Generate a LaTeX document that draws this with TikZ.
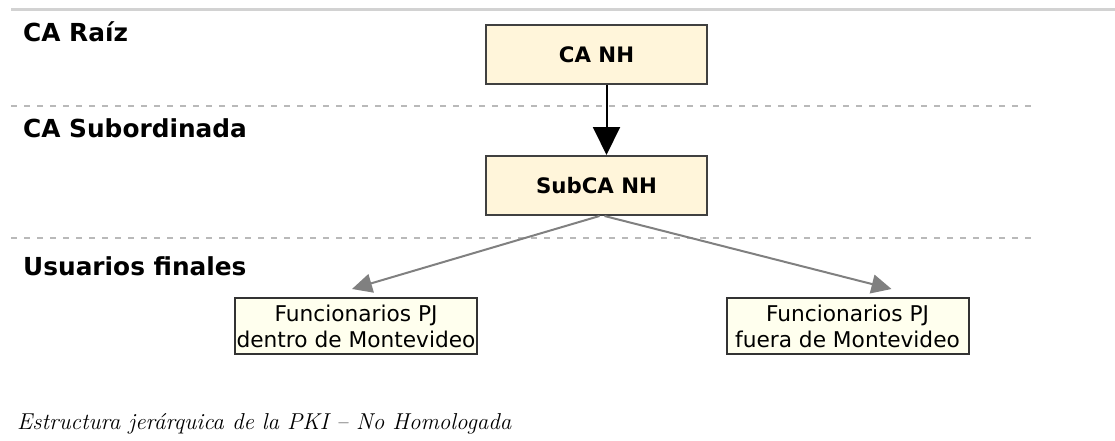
\documentclass[tikz,border=0pt]{standalone}
\usepackage{fontspec}
\setsansfont{DejaVu Sans}
\usetikzlibrary{arrows.meta}
\definecolor{crema}{HTML}{FFF5DA}
\definecolor{cremita}{HTML}{FFFFEE}
\begin{document}
\begin{tikzpicture}[x=1pt,y=-1pt,
  nivel/.style={anchor=base west,font=\sffamily\bfseries\fontsize{24.8}{28}\selectfont,inner sep=0},
  ca/.style={draw=black!75,line width=2pt,fill=crema,minimum width=221pt,minimum height=59pt,
    font=\sffamily\bfseries\fontsize{21.3}{25}\selectfont},
  hoja/.style={draw=black!80,line width=2pt,fill=cremita,minimum width=242pt,minimum height=56pt,
    inner sep=0,align=center,font=\sffamily\fontsize{21.7}{26}\selectfont},
  separa/.style={gray!55,line width=2pt,dash pattern=on 6pt off 7pt},
  negra/.style={line width=2pt,-{Triangle[length=28pt,width=27pt]}},
  gris/.style={gray,line width=2pt,-{Triangle[length=20pt,width=19pt]}}]
\useasboundingbox (0,0) rectangle (1115,441);
\draw[gray!35,line width=3pt](11,10)--(1115,10);
\draw[separa](11,106)--(1038,106);
\draw[separa](11,238)--(1038,238);
\node[nivel] (raiz) at (23,42) {CA Raíz};
\node[nivel] (subord) at (23,137) {CA Subordinada};
\node[nivel] (usuarios) at (23,275) {Usuarios finales};
\node[ca] (canh) at (596.5,54.5) {CA NH};
\node[ca] (subca) at (596.5,185.5) {SubCA NH};
\node[hoja] (dentro) at (356,326) {Funcionarios PJ\\dentro de Montevideo};
\node[hoja] (fuera) at (847.5,326) {Funcionarios PJ\\fuera de Montevideo};
\draw[negra]([xshift=10pt]canh.south)--([xshift=10pt]subca.north);
\draw[gris]([xshift=3pt]subca.south)--([xshift=-4pt,yshift=8pt]dentro.north);
\draw[gris]([xshift=8pt]subca.south)--([xshift=44pt,yshift=8pt]fuera.north);
\node[anchor=base west,inner sep=0,font=\itshape\fontsize{23}{27}\selectfont] (pie) at (17,429)
  {Estructura jerárquica de la PKI -- No Homologada};
\end{tikzpicture}
\end{document}
